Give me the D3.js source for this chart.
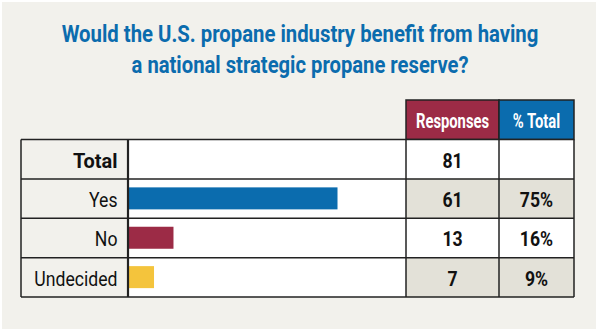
<!DOCTYPE html>
<html>
<head>
<meta charset="utf-8">
<script src="https://cdn.jsdelivr.net/npm/d3@7"></script>
<style>
  html, body { margin: 0; padding: 0; background: #fff; }
  svg text { font-family: Roboto, "Noto Sans", sans-serif; }
</style>
</head>
<body>
<div id="chart"></div>
<script>
// survey data
var titleLines = ["Would the U.S. propane industry benefit from having",
                  "a national strategic propane reserve?"];
var categories = ["Total", "Yes", "No", "Undecided"];
var responses = [81, 61, 13, 7];
var percents = [null, 75, 16, 9];
var barColors = [null, "#0b6cae", "#9c2b46", "#f4c43c"];
var headers = ["Responses", "% Total"];

var W = 600, H = 335;
var squeeze = 0.84; // narrow the type, the original uses a condensed face

var svg = d3.select("#chart").append("svg")
    .attr("width", W)
    .attr("height", H);

// panel background
svg.append("rect")
    .attr("x", 2).attr("y", 2)
    .attr("width", 594).attr("height", 327)
    .attr("fill", "#f2f1ec");

// title, squeezed to the width of the original lines
var titleWidths = [477, 337];
svg.selectAll(".title")
    .data(titleLines)
    .enter().append("text")
    .attr("class", "title")
    .attr("text-anchor", "middle")
    .style("font-size", "24px")
    .style("font-weight", "bold")
    .style("fill", "#0b6cae")
    .text(function (d) { return d; })
    .attr("transform", function (d, i) {
        var k = titleWidths[i] / this.getComputedTextLength();
        return "translate(300," + (42 + i * 31) + ") scale(" + k + ",1)";
    });

// columns
var colLabel = [21, 128], colBar = [128, 406], colResp = [406, 499], colPct = [499, 574];

// rows
var y = d3.scaleBand()
    .domain(categories)
    .range([139.5, 297])
    .padding(0);

// bar scale (percent of total)
var x = d3.scaleLinear().domain([0, 100]).range([colBar[0], colBar[1]]);

var rows = categories.map(function (c, i) {
    return { cat: c, resp: responses[i], pct: percents[i], color: barColors[i], i: i };
});

function squeezed(sel, xpos, ypos) {
    return sel.attr("transform", "translate(" + xpos + "," + ypos + ") scale(" + squeeze + ",1)");
}

// header cells
var hdr = [{ t: headers[0], c: colResp, fill: "#9c2b46" }, { t: headers[1], c: colPct, fill: "#0b6cae" }];
svg.selectAll(".hdr")
    .data(hdr)
    .enter().append("rect")
    .attr("x", function (d) { return d.c[0]; })
    .attr("y", 100)
    .attr("width", function (d) { return d.c[1] - d.c[0]; })
    .attr("height", 39.5)
    .attr("fill", function (d) { return d.fill; })
    .attr("stroke", "#222")
    .attr("stroke-width", 1.5);
svg.selectAll(".hdrText")
    .data(hdr)
    .enter().append("text")
    .attr("transform", function (d) {
        return "translate(" + ((d.c[0] + d.c[1]) / 2) + ",128) scale(" + (squeeze * 0.88) + ",1)";
    })
    .attr("text-anchor", "middle")
    .style("font-size", "20px")
    .style("font-weight", "bold")
    .style("fill", "#fff")
    .text(function (d) { return d.t; });

// cell backgrounds
var rowG = svg.selectAll(".row")
    .data(rows)
    .enter().append("g")
    .attr("class", "row")
    .attr("transform", function (d) { return "translate(0," + y(d.cat) + ")"; });

rowG.append("rect")
    .attr("x", colBar[0]).attr("width", colBar[1] - colBar[0])
    .attr("height", y.bandwidth())
    .attr("fill", "#fff");

rowG.append("rect")
    .attr("x", colResp[0]).attr("width", colPct[1] - colResp[0])
    .attr("height", y.bandwidth())
    .attr("fill", function (d) { return d.i % 2 === 1 ? "#e3e1d8" : "#fff"; });

// bars
rowG.filter(function (d) { return d.pct !== null; })
    .append("rect")
    .attr("x", x(0) + 1)
    .attr("y", 8.5)
    .attr("width", function (d) { return x(d.pct) - x(0); })
    .attr("height", 22)
    .attr("fill", function (d) { return d.color; });

// labels
rowG.append("text")
    .attr("transform", function (d) {
        return "translate(117.5,28) scale(" + (d.i === 0 ? 0.95 : squeeze) + ",1)";
    })
    .attr("text-anchor", "end")
    .style("font-size", "21px")
    .style("font-weight", function (d) { return d.i === 0 ? "bold" : "normal"; })
    .style("fill", "#111")
    .text(function (d) { return d.cat; });

rowG.append("text")
    .call(squeezed, (colResp[0] + colResp[1]) / 2, 28)
    .attr("text-anchor", "middle")
    .style("font-size", "21px")
    .style("font-weight", "bold")
    .style("fill", "#111")
    .text(function (d) { return d.resp; });

rowG.append("text")
    .call(squeezed, (colPct[0] + colPct[1]) / 2, 28)
    .attr("text-anchor", "middle")
    .style("font-size", "21px")
    .style("font-weight", "bold")
    .style("fill", "#111")
    .text(function (d) { return d.pct === null ? "" : d.pct + "%"; });

// grid lines
var hLines = y.domain().map(function (c) { return y(c); }).concat([y.range()[1]]);
svg.selectAll(".hline")
    .data(hLines)
    .enter().append("line")
    .attr("x1", colLabel[0]).attr("x2", colPct[1])
    .attr("y1", function (d) { return d; }).attr("y2", function (d) { return d; })
    .attr("stroke", "#222")
    .attr("stroke-width", 1.5);

var vLines = [colLabel[0], colLabel[1], colResp[0], colPct[0], colPct[1]];
svg.selectAll(".vline")
    .data(vLines)
    .enter().append("line")
    .attr("x1", function (d) { return d; }).attr("x2", function (d) { return d; })
    .attr("y1", y.range()[0]).attr("y2", y.range()[1])
    .attr("stroke", "#222")
    .attr("stroke-width", function (d, i) { return i === 1 ? 2.2 : 1.5; });
</script>
</body>
</html>
